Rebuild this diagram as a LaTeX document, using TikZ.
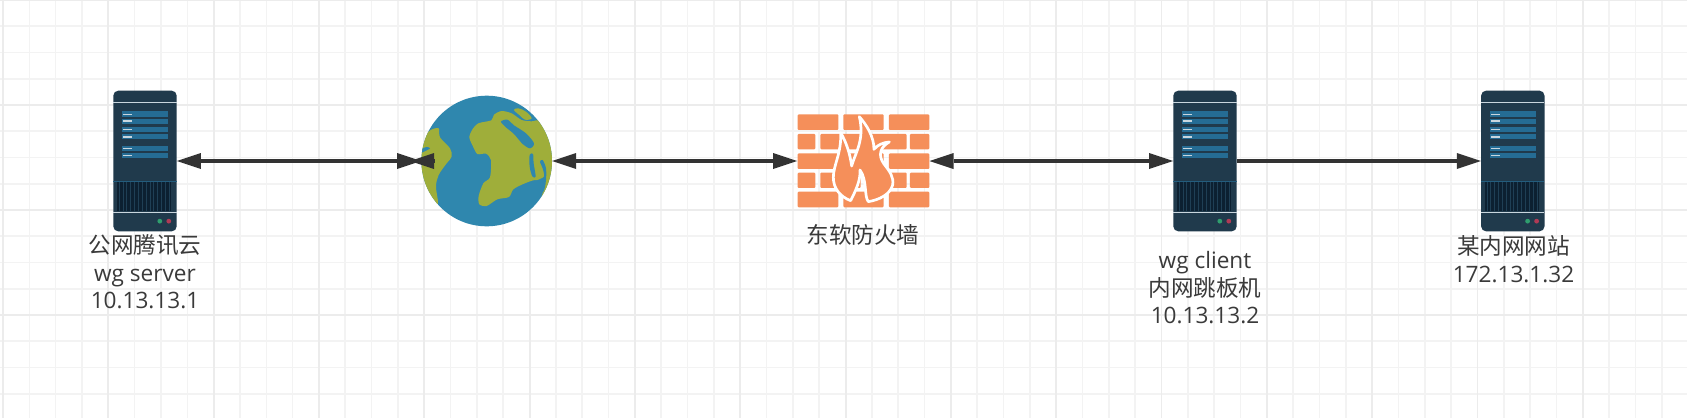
\documentclass[tikz,border=0pt]{standalone}
\usepackage{fontspec}
\setmainfont{Open Sans}
\newfontfamily\cjk{Noto Sans CJK SC}
\usetikzlibrary{arrows.meta}
\definecolor{txt}{HTML}{3A3A3A}
\definecolor{ink}{HTML}{333333}
\definecolor{srvbody}{HTML}{203A4C}
\definecolor{srvblue}{HTML}{256C94}
\definecolor{srvline}{HTML}{C9D6DE}
\definecolor{srvvent}{HTML}{0C2031}
\definecolor{srvvent2}{HTML}{1F3F55}
\definecolor{ledg}{HTML}{2F9E6E}
\definecolor{ledr}{HTML}{B03A55}
\definecolor{gridmin}{HTML}{F3F3F3}
\definecolor{gridmaj}{HTML}{ECECEC}
\definecolor{sea}{HTML}{2F87AE}
\definecolor{land}{HTML}{9FAE3A}
\definecolor{brick}{HTML}{F58F5A}
\tikzset{
  servernode/.style={minimum width=63.4pt,minimum height=140.7pt,inner sep=0pt,fill=srvbody,rounded corners=5pt,draw=none},
  globenode/.style={circle,minimum size=130.6pt,inner sep=0pt,fill=sea,draw=none},
  wallnode/.style={minimum width=132pt,minimum height=93.3pt,inner sep=0pt,draw=none},
  lbl/.style={align=center,text=txt,inner sep=0pt,font=\fontsize{22.6}{27.5}\selectfont},
  link/.style={draw=ink,line width=4pt},
  tipa/.tip={Triangle[length=24pt,width=16pt,line width=0pt]},
  both/.style={link,{tipa}-{tipa}},
  onew/.style={link,-{tipa}},
}
\newcommand{\serverbits}[1]{%
  \begin{scope}[shift={(#1.north west)}]
    \fill[srvline] (0,11.6) rectangle (63.4,13);
    \foreach \a/\b in {21/26.7,28.3/33.3,36.7/41.7,43.7/49,55.3/60.7,62.3/67.7}{
      \fill[srvblue] (9,\a) rectangle (54.7,\b);
      \fill[srvline] (10.3,{(\a+\b)/2-0.8}) rectangle (19,{(\a+\b)/2+0.8});
    }
    \fill[srvblue!70!srvbody] (0,90.3) rectangle (63.4,90.9);
    \fill[srvvent] (4.3,91.7) rectangle (58.3,120.7);
    \foreach \i in {0,...,13}{
      \fill[srvvent2] ({5.6+3.85*\i},91.7) rectangle ({6.5+3.85*\i},120.7);
    }
    \fill[srvline] (0,121.6) rectangle (63.4,123);
    \fill[ledg] (46.7,130.7) circle (2.4);
    \fill[ledr] (55.7,130.7) circle (2.4);
  \end{scope}}
\begin{document}
\begin{tikzpicture}[x=1pt,y=-1pt]
\useasboundingbox (0,0) rectangle (1687,418);
\fill[white] (0,0) rectangle (1687,418);
% grid
\foreach \i in {0,...,64}{
  \pgfmathsetmacro\gx{3+26.33*\i}
  \draw[gridmin,line width=1.6pt] (\gx,0) -- (\gx,418);
}
\foreach \i in {0,...,16}{
  \pgfmathsetmacro\gy{26.25*\i}
  \draw[gridmin,line width=1.6pt] (0,\gy) -- (1687,\gy);
}
\foreach \i in {0,...,16}{
  \pgfmathsetmacro\gx{3+105.32*\i}
  \draw[gridmaj,line width=1.9pt] (\gx,0) -- (\gx,418);
}
\foreach \i in {0,...,4}{
  \pgfmathsetmacro\gy{105*\i}
  \draw[gridmaj,line width=1.9pt] (0,\gy) -- (1687,\gy);
}
% icons
\node[servernode] (s1) at (145,161) {};
\serverbits{s1}
\node[servernode] (s2) at (1205,161) {};
\serverbits{s2}
\node[servernode] (s3) at (1512.8,161) {};
\serverbits{s3}
\node[globenode] (globe) at (486.7,161) {};
\begin{scope}
  \clip (globe.center) circle (65.3);
  \begin{scope}[shift={(390,80)},x=0.3333pt,y=-0.3333pt]
    \fill[land] plot[smooth cycle,tension=0.55] coordinates {(80,200)(108,165)(122,150)(146,145)(150,172)(180,205)(185,230)(170,250)(146,285)(138,320)(143,372)(110,340)(80,270)};
    \fill[sea] plot[smooth cycle] coordinates {(95,207)(110,201)(120,205)(104,214)(94,218)};
    \fill[land] plot[smooth cycle,tension=0.45] coordinates {(238,172)(246,150)(265,130)(304,121)(312,104)(335,93)(365,100)(395,120)(425,124)(455,125)(530,200)(520,300)(455,358)(466,310)(436,300)(400,312)(370,328)(357,351)(322,358)(290,378)(268,373)(266,348)(280,310)(300,292)(303,240)(288,221)(262,222)(247,195)};
    \fill[land] plot[smooth cycle,tension=0.6] coordinates {(372,90)(385,85)(408,95)(425,115)(405,119)(388,105)};
    \fill[sea] plot[smooth cycle,tension=0.5] coordinates {(333,125)(352,119)(372,136)(408,160)(432,190)(420,205)(398,192)(372,162)(348,142)};
    \fill[sea] plot[smooth cycle,tension=0.5] coordinates {(419,225)(429,222)(431,250)(437,290)(427,289)(419,260)};
    \fill[sea] plot[smooth cycle,tension=0.5] coordinates {(450,245)(458,240)(468,265)(468,300)(460,335)(440,325)(440,303)(462,290)(458,265)};
  \end{scope}
\end{scope}
\node[wallnode] (fw) at (863.3,161) {};
\begin{scope}[shift={(770,90)},x=0.3333pt,y=-0.3333pt]
  \begin{scope}[brick,rounded corners=1pt]
  \foreach \ya/\yb in {73/120,190/237,305/352}{
    \foreach \xa/\xb in {83/205,220/341,357/478}{
      \fill (\xa,\ya) rectangle (\xb,\yb);
    }
  }
  \foreach \ya/\yb in {132/178,248/294}{
    \foreach \xa/\xb in {83/136,151/272,288/410,420/478}{
      \fill (\xa,\ya) rectangle (\xb,\yb);
    }
  }
  \end{scope}
  \draw[white,fill=brick,line width=2.7pt,line join=round]
    (268,80) .. controls (290,105) and (312,140) .. (312,178)
    .. controls (322,165) and (340,157) .. (358,156)
    .. controls (332,170) and (322,195) .. (342,222)
    .. controls (360,245) and (372,262) .. (368,285)
    .. controls (360,315) and (325,330) .. (295,335)
    .. controls (282,320) and (292,270) .. (270,240)
    .. controls (272,270) and (258,300) .. (242,332)
    .. controls (210,320) and (190,295) .. (190,262)
    .. controls (190,225) and (215,190) .. (212,128)
    .. controls (228,155) and (240,190) .. (245,228)
    .. controls (255,190) and (285,150) .. (268,80) -- cycle;
\end{scope}
% connectors
\draw[both] (s1.east) -- (globe.west);
\coordinate (backb) at (434.5,161);
\coordinate (backt) at (410,161);
\draw[onew] (backb) -- (backt);
\draw[both] (globe.east) -- (fw.west);
\draw[both] (fw.east) -- (s2.west);
\draw[onew] (s2.east) -- (s3.west);
% labels
\node[lbl] (t1) at (145,272) {{\cjk 公网腾讯云}\\wg server\\10.13.13.1};
\node[lbl] (t2) at (863,235) {{\cjk 东软防火墙}};
\node[lbl] (t3) at (1205,288) {wg client\\{\cjk 内网跳板机}\\10.13.13.2};
\node[lbl] (t4) at (1513.5,259) {{\cjk 某内网网站}\\172.13.1.32};
\end{tikzpicture}
\end{document}
